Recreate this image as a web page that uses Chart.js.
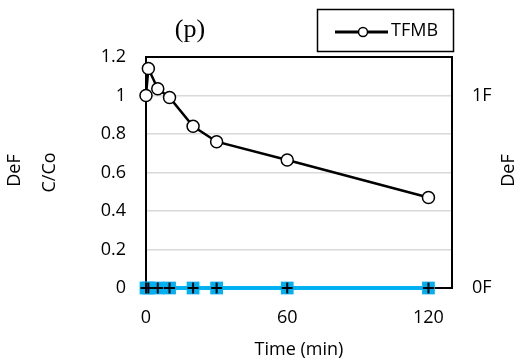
<!DOCTYPE html>
<html>
<head>
<meta charset="utf-8">
<script src="https://cdn.jsdelivr.net/npm/chart.js@4/dist/chart.umd.min.js"></script>
<style>
  body { margin: 0; background: #fff; }
  canvas { display: block; }
</style>
</head>
<body>
<canvas id="chart" width="530" height="363"></canvas>
<script>
// data
const times = [0, 1, 5, 10, 20, 30, 60, 120];
const tfmb = [1.0, 1.14, 1.035, 0.99, 0.84, 0.76, 0.665, 0.47];
const defValues = [0, 0, 0, 0, 0, 0, 0, 0];
const xTicks = [0, 60, 120];
const rightTicks = [0, 1];

const FONT = "'Open Sans', sans-serif";
const BLUE = "#00B0F0";

const toPoints = (ys) => times.map((t, i) => ({ x: t, y: ys[i] }));

// frame top line, outer labels, title and legend box
const extras = {
    id: "extras",
    beforeDatasetsDraw(chart) {
        const { ctx, chartArea } = chart;
        ctx.save();
        ctx.strokeStyle = "#000";
        ctx.lineWidth = 2;
        ctx.beginPath();
        ctx.moveTo(chartArea.left - 1, chartArea.top);
        ctx.lineTo(chartArea.right + 1, chartArea.top);
        ctx.stroke();
        ctx.restore();
    },
    afterDraw(chart) {
        const { ctx, chartArea } = chart;
        const midY = (chartArea.top + chartArea.bottom) / 2 - 2;
        ctx.save();
        ctx.fillStyle = "#000";
        ctx.font = "18px " + FONT;
        ctx.textAlign = "center";
        ctx.textBaseline = "middle";
        // "DeF" on both sides, reading upwards
        [15, 509].forEach(x => {
            ctx.save();
            ctx.translate(x, midY);
            ctx.rotate(-Math.PI / 2);
            ctx.fillText("DeF", 0, 0);
            ctx.restore();
        });

        // panel title
        ctx.font = "26px 'Liberation Serif', serif";
        ctx.fillText("(p)", 190, 30);

        // legend
        ctx.strokeStyle = "#000";
        ctx.lineWidth = 1.5;
        ctx.strokeRect(317.5, 9.5, 136, 42);
        ctx.lineWidth = 3;
        ctx.beginPath();
        ctx.moveTo(335, 32);
        ctx.lineTo(388, 32);
        ctx.stroke();
        ctx.beginPath();
        ctx.arc(363, 32, 4.5, 0, Math.PI * 2);
        ctx.fillStyle = "#fff";
        ctx.fill();
        ctx.lineWidth = 1.5;
        ctx.stroke();
        ctx.fillStyle = "#000";
        ctx.font = "18px " + FONT;
        ctx.textAlign = "left";
        ctx.fillText("TFMB", 391, 31);
        ctx.restore();
    }
};

new Chart(document.getElementById("chart"), {
    type: "line",
    data: {
        datasets: [
            {
                label: "TFMB",
                data: toPoints(tfmb),
                borderColor: "#000",
                borderWidth: 2.5,
                pointRadius: 6,
                pointBackgroundColor: "#fff",
                pointBorderColor: "#000",
                pointBorderWidth: 1.5,
                clip: false
            },
            {
                label: "DeF marks",
                data: toPoints(defValues),
                showLine: false,
                pointStyle: "cross",
                pointRadius: 5.5,
                pointBorderColor: "#000",
                pointBorderWidth: 2,
                clip: false
            },
            {
                label: "DeF",
                data: toPoints(defValues),
                borderColor: BLUE,
                borderWidth: 4,
                pointStyle: "rect",
                pointRadius: 9,
                pointBackgroundColor: BLUE,
                pointBorderColor: BLUE,
                pointBorderWidth: 0,
                clip: false
            }
        ]
    },
    options: {
        responsive: false,
        animation: false,
        layout: { padding: { top: 57, left: 0, right: 0, bottom: 0 } },
        plugins: {
            legend: { display: false },
            title: { display: false },
            tooltip: { enabled: false }
        },
        scales: {
            x: {
                type: "linear",
                min: 0,
                max: 130,
                afterBuildTicks: (axis) => { axis.ticks = xTicks.map(v => ({ value: v })); },
                afterFit: (axis) => { axis.height = 75; },
                grid: { display: false, drawTicks: false },
                border: { color: "#000", width: 2 },
                ticks: { color: "#000", font: { family: FONT, size: 18 }, padding: 19, maxRotation: 0 },
                title: {
                    display: true,
                    text: "Time (min)",
                    color: "#000",
                    font: { family: FONT, size: 18 },
                    padding: { top: 0, bottom: 2 }
                }
            },
            y: {
                position: "left",
                min: 0,
                max: 1.2,
                afterFit: (axis) => { axis.width = 146; },
                ticks: {
                    stepSize: 0.2,
                    color: "#000",
                    font: { family: FONT, size: 18 },
                    padding: 20,
                    callback: (v) => String(Math.round(v * 10) / 10)
                },
                grid: {
                    drawTicks: false,
                    lineWidth: 1.5,
                    color: (c) => (c.tick && (c.tick.value === 0 || c.tick.value >= 1.19)) ? "rgba(0,0,0,0)" : "#d9d9d9"
                },
                border: { color: "#000", width: 2 },
                title: {
                    display: true,
                    text: "C/Co",
                    color: "#000",
                    font: { family: FONT, size: 18 },
                    padding: { top: 39, bottom: 0 }
                }
            },
            yRight: {
                position: "right",
                min: 0,
                max: 1.2,
                afterBuildTicks: (axis) => { axis.ticks = rightTicks.map(v => ({ value: v })); },
                afterFit: (axis) => { axis.width = 78; },
                ticks: { color: "#000", font: { family: FONT, size: 18 }, padding: 20, callback: (v) => v + "F" },
                grid: { display: false, drawTicks: false },
                border: { color: "#000", width: 2 }
            }
        }
    },
    plugins: [extras]
});
</script>
</body>
</html>
